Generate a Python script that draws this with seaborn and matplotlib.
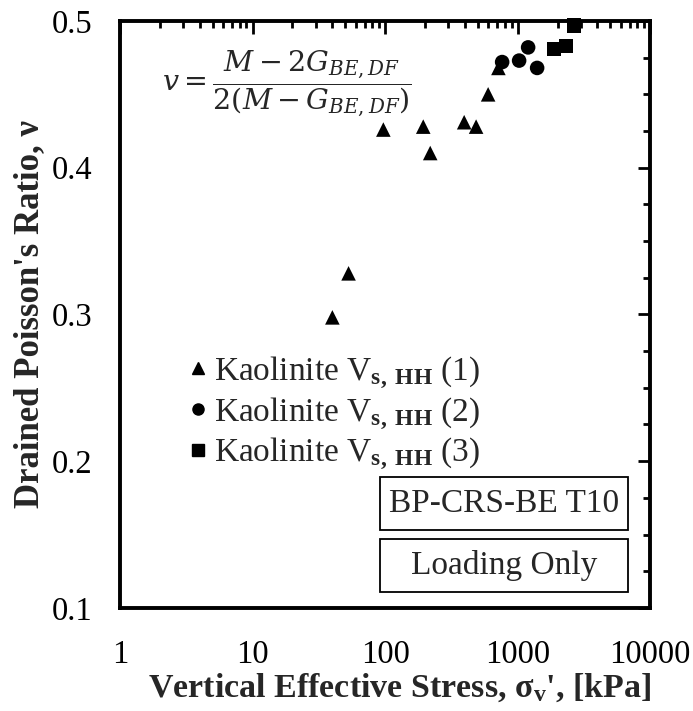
import numpy as np
import pandas as pd
import matplotlib
matplotlib.use("Agg")
import matplotlib.pyplot as plt
import seaborn as sns
from matplotlib.lines import Line2D
from matplotlib.patches import Rectangle
from matplotlib.ticker import LogLocator, MultipleLocator, FixedLocator

# ---------------------------------------------------------------
# data
# ---------------------------------------------------------------
tri_x = [40, 53, 97, 194, 219, 395, 486, 599, 716]
tri_y = [0.298, 0.328, 0.426, 0.428, 0.410, 0.431, 0.428, 0.450, 0.468]
circ_x = [764, 1026, 1200, 1403]
circ_y = [0.472, 0.473, 0.482, 0.468]
sq_x = [1885, 2323, 2670]
sq_y = [0.481, 0.483, 0.497]

series_names = ["(1)", "(2)", "(3)"]
series_markers = {"(1)": "^", "(2)": "o", "(3)": "s"}
x_ticks = [1, 10, 100, 1000, 10000]
x_tick_labels = ["1", "10", "100", "1000", "10000"]
y_ticks = [0.1, 0.2, 0.3, 0.4, 0.5]
box_labels = ["BP-CRS-BE T10", "Loading Only"]

df = pd.DataFrame({
    "stress": tri_x + circ_x + sq_x,
    "nu": tri_y + circ_y + sq_y,
    "series": ["(1)"] * len(tri_x) + ["(2)"] * len(circ_x) + ["(3)"] * len(sq_x),
})

sns.set_style("white")
plt.rcParams["font.family"] = ["Liberation Serif", "DejaVu Serif"]
plt.rcParams["mathtext.fontset"] = "custom"
plt.rcParams["mathtext.rm"] = "Liberation Serif"
plt.rcParams["mathtext.it"] = "Liberation Serif:italic"
plt.rcParams["mathtext.bf"] = "Liberation Serif:bold"

fig = plt.figure(figsize=(6.93, 7.11), dpi=100)
ax = fig.add_axes([0.1732, 0.145, 0.765, 0.8255])

sns.scatterplot(data=df, x="stress", y="nu", style="series", markers=series_markers,
                color="black", s=110, edgecolor="black", linewidth=0,
                legend=False, ax=ax)
for coll in ax.collections:
    coll.set_clip_on(False)

ax.set_xscale("log")
ax.set_xlim(1, 10000)
ax.set_ylim(0.1, 0.5)
ax.xaxis.set_major_locator(FixedLocator(x_ticks))
ax.set_xticklabels(x_tick_labels)
ax.xaxis.set_minor_locator(LogLocator(base=10, subs=np.arange(2, 10)))
ax.xaxis.set_minor_formatter(plt.NullFormatter())
ax.yaxis.set_major_locator(FixedLocator(y_ticks))
ax.yaxis.set_minor_locator(MultipleLocator(0.025))
ax.set_yticklabels([f"{v:.1f}" for v in y_ticks])

ax.tick_params(axis="both", which="both", direction="in", top=True, right=True,
               labelsize=23.5, width=2, colors="black")
ax.tick_params(axis="both", which="major", length=9)
ax.tick_params(axis="both", which="minor", length=5)
ax.tick_params(axis="x", which="major", pad=23)
ax.tick_params(axis="y", which="major", pad=20)
for sp in ax.spines.values():
    sp.set_linewidth(2.8)
    sp.set_color("black")

ax.set_xlabel(r"Vertical Effective Stress, σ$_{\mathbf{v}}$', [kPa]",
              fontsize=24.5, fontweight="bold")
ax.xaxis.set_label_coords(0.528, -0.136)
ax.xaxis.label.set_va("center")
ax.set_ylabel("Drained Poisson's Ratio, ν", fontsize=25, fontweight="bold", labelpad=4)

# formula
ax.text(0.315, 0.891, r"$v = \dfrac{M - 2G_{BE,DF}}{2(M - G_{BE,DF})}$",
        transform=ax.transAxes, ha="center", va="center", fontsize=20.5,
        math_fontfamily="dejavuserif")

# legend
handles = [Line2D([], [], marker=series_markers[n], color="black", linestyle="none",
                  markersize=8) for n in series_names]
labels = [r"Kaolinite V$_{\mathbf{s,\ HH}}$" + " " + n for n in series_names]
ax.legend(handles, labels, loc="upper left", bbox_to_anchor=(0.09, 0.455),
          frameon=False, fontsize=24, handletextpad=0.0, handlelength=1.0,
          labelspacing=0.12, borderaxespad=0)

# boxes
box_y = [0.1329, 0.0273]
for lab, y0 in zip(box_labels, box_y):
    ax.add_patch(Rectangle((0.4906, y0), 0.468, 0.0903, transform=ax.transAxes,
                           fill=False, edgecolor="black", linewidth=1.3))
    ax.text(0.4906 + 0.234, y0 + 0.045, lab, transform=ax.transAxes, ha="center",
            va="center", fontsize=24)

fig.savefig("out.png", dpi=100)
